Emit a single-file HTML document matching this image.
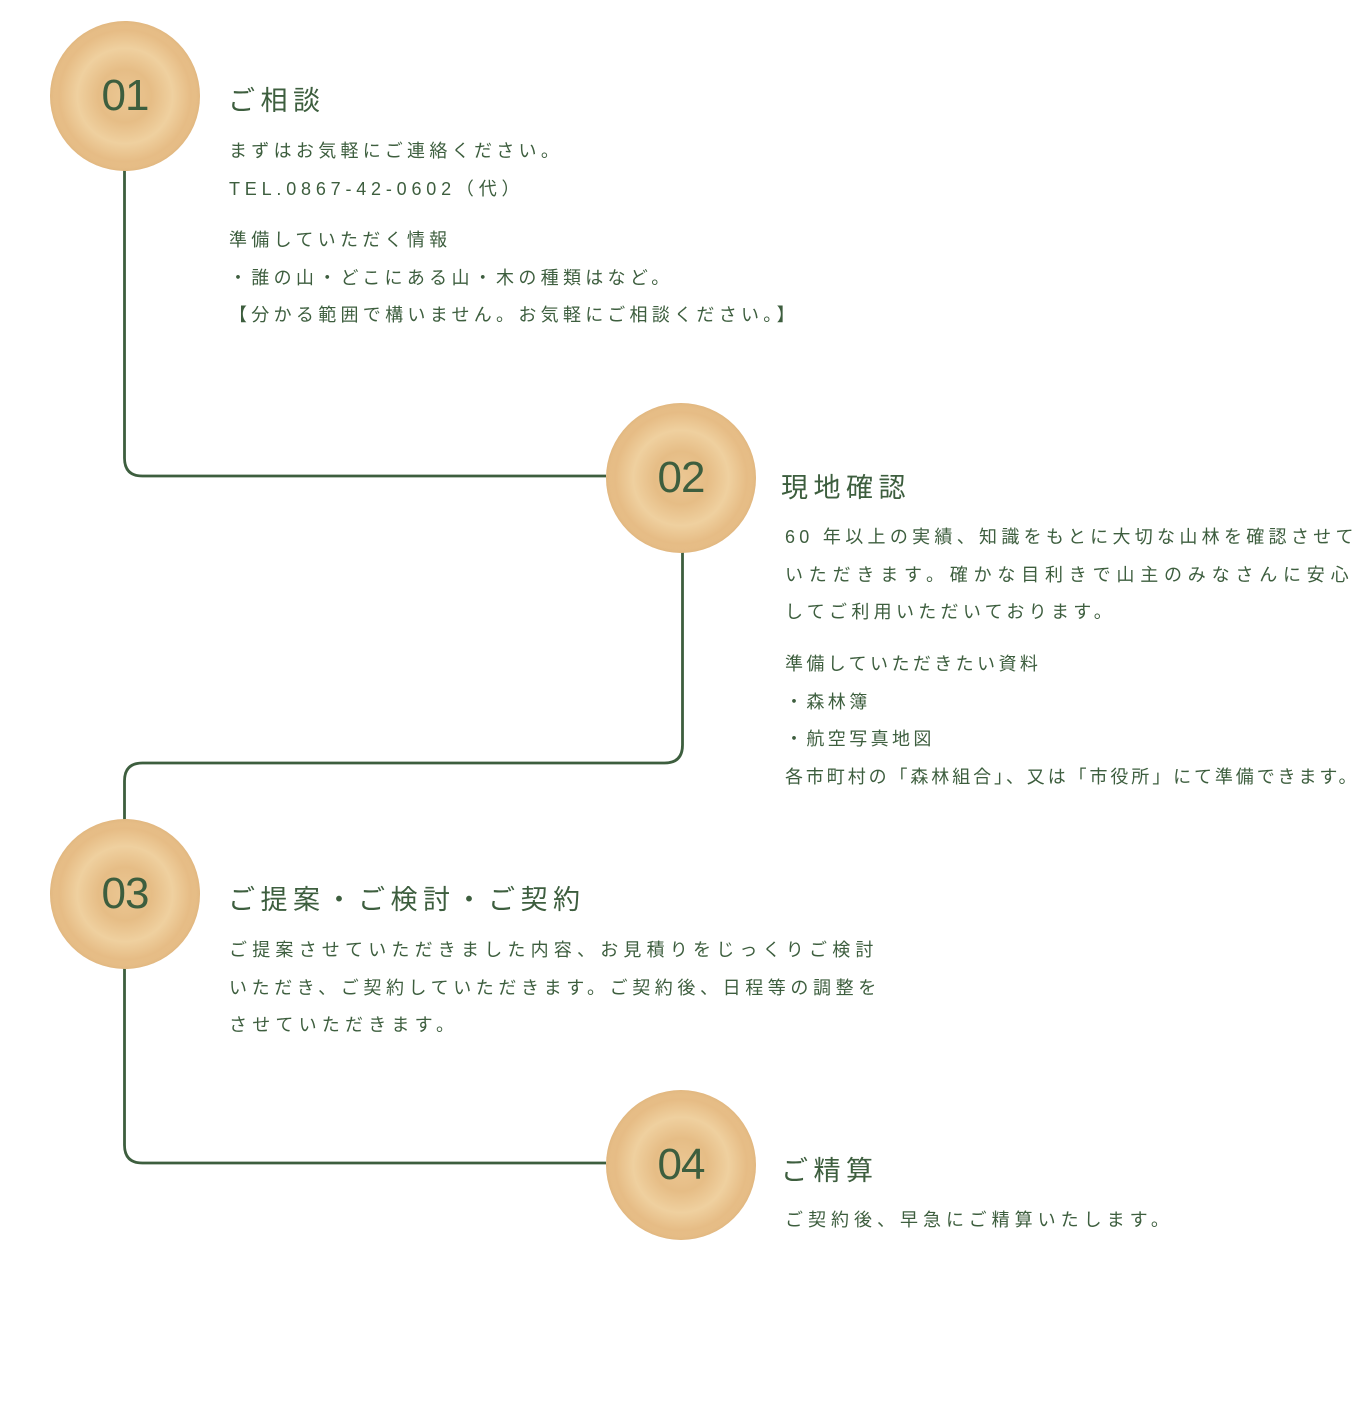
<!DOCTYPE html>
<html><head><meta charset="utf-8"><style>
html,body{margin:0;padding:0;background:#fff;}
body{width:1352px;height:1410px;position:relative;overflow:hidden;font-family:"Liberation Sans","Noto Sans CJK JP",sans-serif;color:#3d5e3e;}
.c{position:absolute;width:150px;height:150px;border-radius:50%;
background:radial-gradient(circle at 50% 50%, #ebc793 0%, #e6bd86 25%, #efd09f 45%, #e6bc85 62%, #eac48f 78%, #f0d8b0 90%, #f3e4ca 100%);
box-shadow:inset 0 0 6px rgba(200,150,90,.4);}
.c span{position:absolute;left:0;right:0;top:50%;transform:translateY(-50%);text-align:center;font-size:44px;color:#3d5e3e;letter-spacing:-1px;}
.t{position:absolute;font-size:27px;letter-spacing:5.5px;white-space:nowrap;}
.b{position:absolute;font-size:18px;letter-spacing:4.3px;line-height:37.5px;white-space:nowrap;}
</style></head><body>
<svg width="1352" height="1410" style="position:absolute;left:0;top:0">
<path d="M124.5 170 V458 Q124.5 476 142.5 476 H606" fill="none" stroke="#3d5e3e" stroke-width="2.8"/>
<path d="M682.5 552 V745 Q682.5 763 664.5 763 H142.5 Q124.5 763 124.5 781 V820" fill="none" stroke="#3d5e3e" stroke-width="2.8"/>
<path d="M124.5 968 V1145 Q124.5 1163 142.5 1163 H606" fill="none" stroke="#3d5e3e" stroke-width="2.8"/>
</svg>
<div class="c" style="left:50px;top:21px"><span>01</span></div>
<div class="c" style="left:606px;top:403px"><span>02</span></div>
<div class="c" style="left:50px;top:819px"><span>03</span></div>
<div class="c" style="left:606px;top:1090px"><span>04</span></div>

<div class="t" style="left:228px;top:79px">ご相談</div>
<div class="b" style="left:229px;top:133px">まずはお気軽にご連絡ください。<br><span style="letter-spacing:4.8px">TEL.0867-42-0602（代）</span></div>
<div class="b" style="left:229px;top:222px">準備していただく情報<br>・誰の山・どこにある山・木の種類はなど。<br>【分かる範囲で構いません。お気軽にご相談ください。】</div>

<div class="t" style="left:781px;top:466px">現地確認</div>
<div class="b" style="left:785px;top:519px">60 年以上の実績、知識をもとに大切な山林を確認させて<br><span style="letter-spacing:5.8px">いただきます。確かな目利きで山主のみなさんに安心</span><br>してご利用いただいております。</div>
<div class="b" style="left:785px;top:646px;letter-spacing:3.4px">準備していただきたい資料<br>・森林簿<br>・航空写真地図<br><span style="letter-spacing:2.9px">各市町村の「森林組合」、又は「市役所」にて準備できます。</span></div>

<div class="t" style="left:228px;top:878px">ご提案・ご検討・ご契約</div>
<div class="b" style="left:229px;top:932px;letter-spacing:5.2px">ご提案させていただきました内容、お見積りをじっくりご検討<br><span style="letter-spacing:4.6px">いただき、ご契約していただきます。ご契約後、日程等の調整を</span><br>させていただきます。</div>

<div class="t" style="left:781px;top:1149px">ご精算</div>
<div class="b" style="left:785px;top:1202px;letter-spacing:5px">ご契約後、早急にご精算いたします。</div>
</body></html>
